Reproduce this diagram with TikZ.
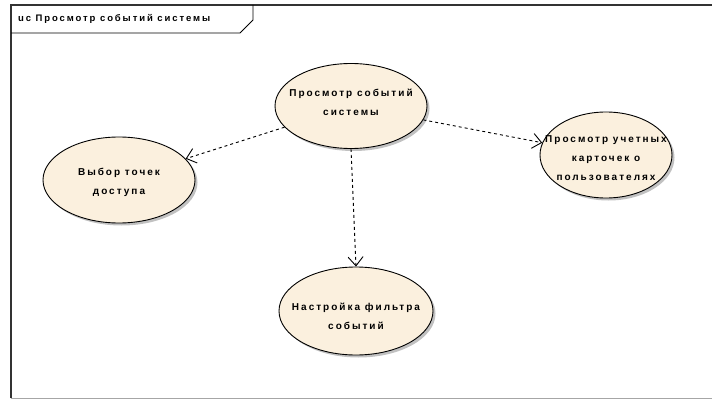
\documentclass[tikz,border=0pt]{standalone}
\usepackage{fontspec}
\setmainfont{Liberation Sans}[LetterSpace=20]
\usetikzlibrary{shapes.geometric,arrows.meta,shadows}
\begin{document}
\begin{tikzpicture}[x=1pt,y=-1pt,
  usecase/.style={ellipse, draw=black, line width=0.9pt, fill=usefill,
    inner sep=0pt,
    drop shadow={shadow xshift=2.5pt, shadow yshift=-2.5pt, fill=black!30, opacity=0.8}},
  uclabel/.style={inner sep=0pt, align=center,
    font=\fontsize{10}{19}\selectfont\bfseries},
  dep/.style={draw=black, line width=0.9pt, dash pattern=on 3pt off 3pt,
    -{Straight Barb[length=9pt,width=15pt,line width=0.9pt]}},
  framebar/.style={draw=black!80, line width=1.4pt}]
\definecolor{usefill}{HTML}{FBF0DE}
\useasboundingbox (0,0) rectangle (712,401);
\fill[white] (0,0) rectangle (712,401);

% frame of the diagram with its name tab
\draw[framebar] (11,398) -- (11,5) -- (712,5);
\draw[draw=black!35, line width=1pt] (11,398) -- (712,398);
\draw[line width=0.9pt] (11,33) -- (240,33) -- (253,20) -- (253,5);
\node[anchor=west, font=\fontsize{9.5}{11}\selectfont\bfseries, inner sep=0pt] (title)
  at (18,19) {uc Просмотр событий системы};

% use cases: fixed-size ellipses, captions set on top of them
\node[usecase, minimum width=152pt, minimum height=85pt] (view) at (351,106) {};
\node[usecase, minimum width=152pt, minimum height=86pt] (access) at (119,180) {};
\node[usecase, minimum width=132pt, minimum height=86pt] (cards) at (606,155) {};
\node[usecase, minimum width=154pt, minimum height=88pt] (filter) at (356,311) {};

\node[uclabel] (view-text) at ([yshift=4pt]view.center) {Просмотр событий\\системы};
\node[uclabel] (access-text) at ([yshift=-2pt]access.center) {Выбор точек\\доступа};
\node[uclabel] (cards-text) at ([yshift=-3pt]cards.center) {Просмотр учетных\\карточек о\\пользователях};
\node[uclabel] (filter-text) at ([yshift=-5pt]filter.center) {Настройка фильтра\\событий};

% dependencies
\draw[dep] (view) -- (access);
\draw[dep] (view) -- (cards);
\draw[dep] (view.south) -- (filter.north);
\end{tikzpicture}
\end{document}
